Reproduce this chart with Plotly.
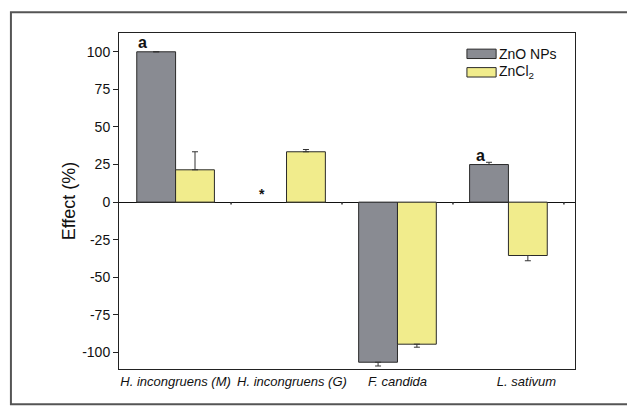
import plotly.graph_objects as go

categories = ["H. incongruens (M)", "H. incongruens (G)", "F. candida", "L. sativum"]
zno_values = [100, None, -106.5, 25]
zno_err = [0, 0, 2.5, 1.5]
zncl2_values = [21.5, 33.5, -94.5, -35.5]
zncl2_err = [12, 1.5, 2, 3.5]
y_ticks = [-100, -75, -50, -25, 0, 25, 50, 75, 100]
y_tick_labels = ["-100", "-75", "-50", "-25", "0", "25", "50", "75", "100"]

FONT = "Liberation Sans, Arial, sans-serif"
GRAY = "#898b92"
YELLOW = "#f1ec8c"
EDGE = "#2a2a2a"

x = list(range(len(categories)))
# leading non-breaking spaces nudge labels the way the original figure places them
label_pad = [0, 3, 0, 10]
tick_text = ["<i>%s%s</i>" % ("&nbsp;" * p, c) for p, c in zip(label_pad, categories)]

def err_dict(vals, errs):
    up = [e if (v is not None and v >= 0) else 0 for v, e in zip(vals, errs)]
    dn = [e if (v is not None and v < 0) else 0 for v, e in zip(vals, errs)]
    return dict(type="data", symmetric=False, array=up, arrayminus=dn,
                color="#333333", thickness=1, width=3)

fig = go.Figure()
fig.add_trace(go.Bar(x=x, y=zno_values, name="ZnO NPs", marker=dict(color=GRAY, line=dict(color=EDGE, width=1)),
                     error_y=err_dict(zno_values, zno_err)))
fig.add_trace(go.Bar(x=x, y=zncl2_values, name="ZnCl<sub>2</sub>", marker=dict(color=YELLOW, line=dict(color=EDGE, width=1)),
                     error_y=err_dict(zncl2_values, zncl2_err)))

fig.update_layout(
    width=627, height=399,
    margin=dict(l=111, r=60, t=25, b=38),
    paper_bgcolor="white", plot_bgcolor="white",
    barmode="group", bargap=0.3, bargroupgap=0,
    showlegend=False,
    font=dict(family=FONT, color="#111111"),
    xaxis=dict(range=[-0.51, 3.6], tickmode="array", tickvals=x,
               ticktext=tick_text, tickangle=0, automargin=False,
               tickfont=dict(size=13, family=FONT), ticks="", showgrid=False, zeroline=False,
               showline=True, linecolor="#222222", linewidth=1, mirror=True),
    yaxis=dict(range=[-111, 112.5], tickmode="array", tickvals=y_ticks, ticktext=y_tick_labels,
               ticks="outside", ticklen=5, tickcolor="#222222", automargin=False,
               tickfont=dict(size=14, family=FONT), showgrid=False,
               zeroline=True, zerolinecolor="#111111", zerolinewidth=1.3,
               showline=True, linecolor="#222222", linewidth=1, mirror=True,
               title=dict(text="Effect (%)", font=dict(size=18, family=FONT), standoff=1)),
)

# outer frame
fig.add_shape(type="rect", xref="paper", yref="paper", x0=-0.237, x1=1.3, y0=-0.105, y1=1.062,
              line=dict(color="#555555", width=2), layer="below")

# small separator ticks on zero line
for b in [0.5, 1.5, 2.5, 3.5]:
    fig.add_shape(type="line", xref="x", yref="y", x0=b, x1=b, y0=0, y1=-1.5,
                  line=dict(color="#333333", width=1.5))

# significance labels
fig.add_annotation(x=-0.3, y=99, text="<b>a</b>", showarrow=False, yanchor="bottom",
                   font=dict(size=16, family=FONT))
fig.add_annotation(x=2.75, y=24, text="<b>a</b>", showarrow=False, yanchor="bottom",
                   font=dict(size=16, family=FONT))
fig.add_annotation(x=0.78, y=5.3, text="<b>*</b>", showarrow=False, yanchor="middle",
                   font=dict(size=14, family=FONT))

# manual legend (wide swatches as in the original)
legend_items = [("ZnO NPs", GRAY), ("ZnCl<sub>2</sub>", YELLOW)]
for i, (lab, col) in enumerate(legend_items):
    yc = 0.938 - i * 0.055
    fig.add_shape(type="rect", xref="paper", yref="paper", x0=0.763, x1=0.827,
                  y0=yc - 0.014, y1=yc + 0.014, fillcolor=col, line=dict(color=EDGE, width=1))
    fig.add_annotation(xref="paper", yref="paper", x=0.83, y=yc, text=lab, showarrow=False,
                       xanchor="left", yanchor="middle", font=dict(size=14, family=FONT))

fig.write_html("out.html")
